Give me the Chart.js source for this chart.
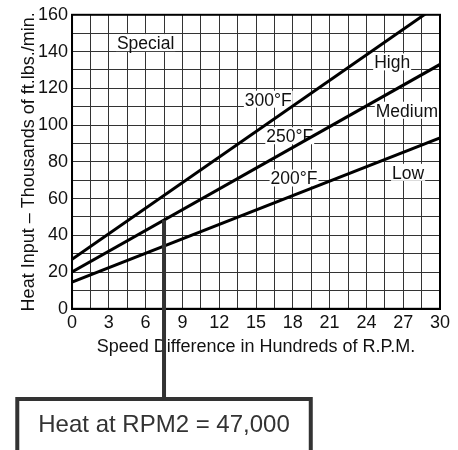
<!DOCTYPE html>
<html>
<head>
    <title>Heat Input vs Speed Difference</title>
    <script src="https://cdn.jsdelivr.net/npm/chart.js"></script>
    <style>
        body { margin: 0; background: #fff; }
        #wrap { width: 458px; height: 450px; }
    </style>
</head>
<body>
    <div id="wrap">
        <canvas id="heatChart" width="458" height="450"></canvas>
    </div>

    <script>
    // line end points (speed difference, heat input in thousands)
    const rpmPoints = [0, 30];
    const heat300 = [27, 166];
    const heat250 = [20, 133];
    const heat200 = [14.5, 93];

    // text labels placed inside the plot
    const noteTexts = ['Special', '300°F', '250°F', '200°F', 'High', 'Medium', 'Low'];
    const noteX = [6.0, 16.0, 17.75, 18.1, 26.1, 27.3, 27.4];
    const noteY = [144.6, 113.8, 93.9, 70.9, 134.1, 107.8, 74];

    // callout
    const calloutRpm = 7.5;
    const calloutText = 'Heat at RPM2 = 47,000';

    const FONT = 'Liberation Sans, Arial, Helvetica, sans-serif';

    function toPoints(xs, ys) {
        return xs.map((x, i) => ({ x: x, y: ys[i] }));
    }

    function isMultiple(v, n) {
        return Math.abs(v / n - Math.round(v / n)) < 1e-6;
    }

    // value of the 250°F line at a given rpm
    function heatOn250(rpm) {
        const t = (rpm - rpmPoints[0]) / (rpmPoints[1] - rpmPoints[0]);
        return heat250[0] + (heat250[1] - heat250[0]) * t;
    }

    const notesPlugin = {
        id: 'notes',
        beforeDatasetsDraw(chart) {
            const ctx = chart.ctx;
            const xs = chart.scales.x, ys = chart.scales.y;
            ctx.save();
            ctx.font = '17.5px ' + FONT;
            ctx.textAlign = 'center';
            ctx.textBaseline = 'middle';
            noteTexts.forEach((t, i) => {
                const px = xs.getPixelForValue(noteX[i]);
                const py = ys.getPixelForValue(noteY[i]);
                const w = ctx.measureText(t).width;
                ctx.fillStyle = '#fff';
                ctx.fillRect(px - w / 2 - 1, py - 9, w + 2, 17);
                ctx.fillStyle = '#111';
                ctx.fillText(t, px, py + 1);
            });
            ctx.restore();
        },
        afterDraw(chart) {
            const ctx = chart.ctx;
            const a = chart.chartArea;
            const xs = chart.scales.x, ys = chart.scales.y;
            ctx.save();
            // plot border
            ctx.strokeStyle = '#000';
            ctx.lineWidth = 2;
            ctx.strokeRect(a.left, a.top, a.right - a.left, a.bottom - a.top);

            // callout line + box
            const cx = xs.getPixelForValue(calloutRpm);
            const cy = ys.getPixelForValue(heatOn250(calloutRpm));
            const boxTop = chart.height - 51;
            ctx.strokeStyle = '#333';
            ctx.lineWidth = 4;
            ctx.beginPath();
            ctx.moveTo(cx, cy);
            ctx.lineTo(cx, boxTop);
            ctx.stroke();

            ctx.font = '24px ' + FONT;
            const w = ctx.measureText(calloutText).width;
            const bw = w + 42;
            ctx.strokeRect(cx - bw / 2, boxTop, bw, 80);
            ctx.fillStyle = '#333';
            ctx.textAlign = 'center';
            ctx.textBaseline = 'middle';
            ctx.fillText(calloutText, cx, boxTop + 26);
            ctx.restore();
        }
    };

    const lineStyle = {
        borderColor: '#000',
        borderWidth: 3,
        pointRadius: 0,
        showLine: true,
        fill: false
    };

    new Chart(document.getElementById('heatChart').getContext('2d'), {
        type: 'scatter',
        data: {
            datasets: [
                Object.assign({ label: '300°F', data: toPoints(rpmPoints, heat300) }, lineStyle),
                Object.assign({ label: '250°F', data: toPoints(rpmPoints, heat250) }, lineStyle),
                Object.assign({ label: '200°F', data: toPoints(rpmPoints, heat200) }, lineStyle)
            ]
        },
        options: {
            responsive: false,
            animation: false,
            layout: { padding: { left: 20, right: 18, top: 10, bottom: 92 } },
            plugins: {
                legend: { display: false },
                tooltip: { enabled: false }
            },
            scales: {
                x: {
                    type: 'linear',
                    min: 0,
                    max: 30,
                    grid: { color: '#333', lineWidth: 1, drawTicks: false },
                    border: { color: '#000', width: 2 },
                    ticks: {
                        stepSize: 1.5,
                        autoSkip: false,
                        maxRotation: 0,
                        padding: 3,
                        color: '#111',
                        font: { family: FONT, size: 18 },
                        callback: v => isMultiple(v, 3) ? String(Math.round(v)) : ''
                    },
                    title: {
                        display: true,
                        text: 'Speed Difference in Hundreds of R.P.M.',
                        color: '#111',
                        font: { family: FONT, size: 18 },
                        padding: { top: 0, bottom: 0 }
                    }
                },
                y: {
                    min: 0,
                    max: 160,
                    grid: { color: '#333', lineWidth: 1, drawTicks: false },
                    border: { color: '#000', width: 2 },
                    ticks: {
                        stepSize: 10,
                        autoSkip: false,
                        padding: 4,
                        color: '#111',
                        font: { family: FONT, size: 18 },
                        callback: v => isMultiple(v, 20) ? String(Math.round(v)) : ''
                    },
                    title: {
                        display: true,
                        text: 'Heat Input – Thousands of ft.lbs./min.',
                        color: '#111',
                        font: { family: FONT, size: 18, lineHeight: 1.0 },
                        padding: { top: 0, bottom: -4 }
                    }
                }
            }
        },
        plugins: [notesPlugin]
    });
    </script>
</body>
</html>
